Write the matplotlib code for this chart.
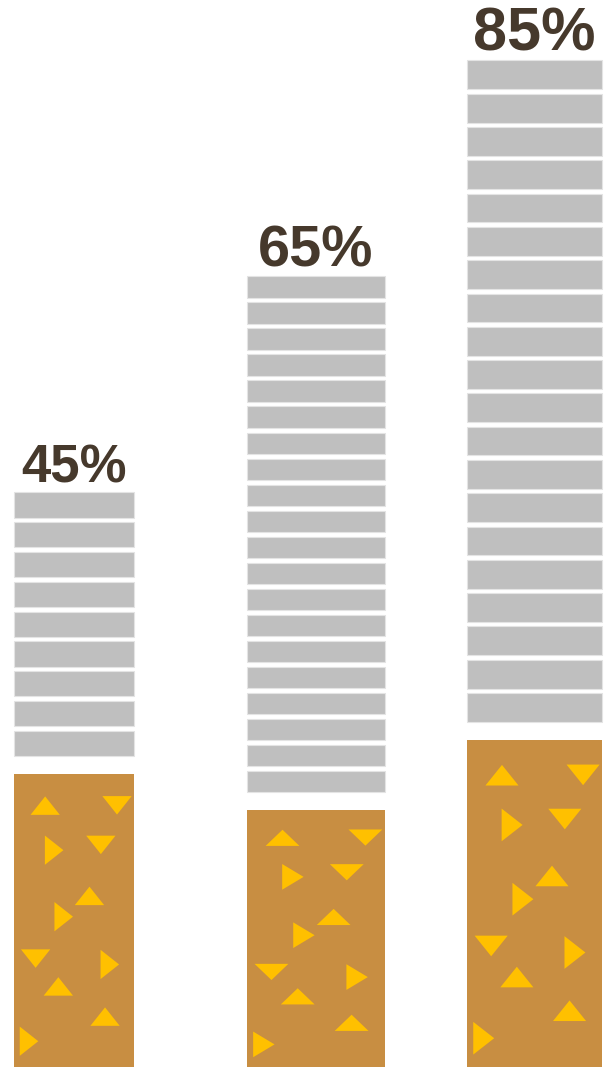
import matplotlib.pyplot as plt
from matplotlib.patches import Polygon

# data
labels = ["45%", "65%", "85%"]
values = [45, 65, 85]
segments = [9, 20, 20]          # grey rings on each cigarette
filter_share = [0.51, 0.325, 0.325]  # part of the cigarette that is filter

# triangle pattern printed on the filter (fractions of the filter box, y from top)
tri_kind = ["up", "down", "right", "down", "up", "right", "down", "right", "up", "up", "right"]
tri_x = [0.26, 0.86, 0.335, 0.725, 0.63, 0.415, 0.18, 0.80, 0.37, 0.76, 0.125]
tri_y = [0.108, 0.107, 0.26, 0.242, 0.416, 0.487, 0.63, 0.65, 0.725, 0.828, 0.912]

# style / layout
base = -8.2
slots = [0, 1.05, 2]
widths = [0.52, 0.60, 0.587]
font_sizes = [38, 41.5, 44]
grey = "#BFBFBF"
brown = "#C88E42"
gold = "#FFC000"
text_col = "#46392C"

plt.rcParams["font.family"] = ["Liberation Sans", "DejaVu Sans"]

fig = plt.figure(figsize=(6.15, 10.67), dpi=100)
ax = fig.add_axes([0, 0, 1, 1])
ax.set_xlim(-0.321, 2.350)
ax.set_ylim(base, 90.6)
ax.axis("off")

gap_filter = 1.25
gap_ring = 0.42

for i, v in enumerate(values):
    x = slots[i]
    w = widths[i]
    total = v - base
    f_h = total * filter_share[i]
    f_top = base + f_h

    # filter
    ax.bar(x, f_h, bottom=base, width=w, color=brown, linewidth=0)

    # triangles on the filter
    left = x - w / 2
    for k, rx, ry in zip(tri_kind, tri_x, tri_y):
        cx = left + rx * w
        cy = f_top - ry * f_h
        if k == "right":
            hw, hh = 0.155 * w / 2, 0.10 * f_h / 2
            pts = [(cx - hw, cy + hh), (cx - hw, cy - hh), (cx + hw, cy)]
        else:
            hw, hh = 0.245 * w / 2, 0.063 * f_h / 2
            if k == "up":
                pts = [(cx - hw, cy - hh), (cx + hw, cy - hh), (cx, cy + hh)]
            else:
                pts = [(cx - hw, cy + hh), (cx + hw, cy + hh), (cx, cy - hh)]
        ax.add_patch(Polygon(pts, closed=True, facecolor=gold, edgecolor="none"))

    # grey rings
    g_bot = f_top + gap_filter
    pitch = (v - g_bot) / segments[i]
    for s in range(segments[i]):
        ax.bar(x, pitch - gap_ring, bottom=g_bot + s * pitch + gap_ring, width=w,
               color=grey, edgecolor="#E4E4E4", linewidth=0.8)

    ax.text(x, v + 0.95, labels[i], ha="center", va="baseline",
            fontsize=font_sizes[i], fontweight="bold", color=text_col)

fig.savefig("out.png", dpi=100)
